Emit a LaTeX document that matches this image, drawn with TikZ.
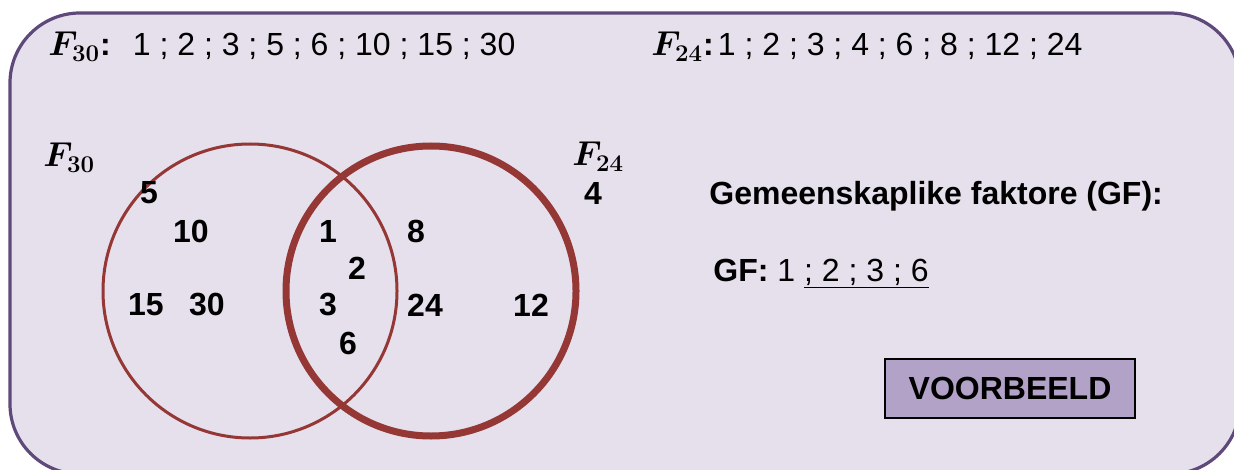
\documentclass[tikz,border=0pt]{standalone}
\usepackage{fontspec}
\setmainfont{Liberation Sans}
\usepackage{bm}
\usetikzlibrary{positioning}
\DeclareMathSizes{16}{17}{13}{10}
\definecolor{framepurple}{HTML}{5F497A}
\definecolor{framefill}{HTML}{E5E0EC}
\definecolor{vennred}{HTML}{953735}
\definecolor{boxfill}{HTML}{B3A2C7}

\begin{document}
\begin{tikzpicture}[
    x=0.5pt, y=-0.5pt,
    font=\fontsize{16}{19}\selectfont,
    num/.style={
      font=\fontsize{16}{19}\selectfont\bfseries,
      inner sep=0pt
    },
    textline/.style={anchor=base west, inner sep=0pt},
    ring/.style={
      circle,
      draw=vennred,
      inner sep=0pt,
      minimum size=147pt
    },
    examplebox/.style={
      rectangle,
      draw=black,
      line width=0.7pt,
      fill=boxfill,
      minimum width=125pt,
      minimum height=29.5pt,
      font=\fontsize{16}{19}\selectfont\bfseries
    },
]
    \useasboundingbox (0,0) rectangle (1234,470);
    \path [draw=framepurple, line width=1.6pt, fill=framefill, rounded corners=35pt] (10,13) rectangle (1240,474);

    % top lists of factors
    \node [textline] (listA) at (48,56) {$\bm{F_{30}}$\textbf{:}\hspace{11pt}1 ; 2 ; 3 ; 5 ; 6 ; 10 ; 15 ; 30};
    \node [textline] (listB) at (651,56) {$\bm{F_{24}}$\textbf{:}\hspace{2pt}1 ; 2 ; 3 ; 4 ; 6 ; 8 ; 12 ; 24};

    % the two sets
    \node [ring, line width=1.5pt] (setA) at (250,291) {};
    \node [ring, line width=3.5pt, minimum size=145pt] (setB) at (431,291) {};
    \node [textline] (nameA) at (43,167) {$\bm{F_{30}}$};
    \node [textline] (nameB) at (572,166) {$\bm{F_{24}}$};

    \node [num] (n5) at (149,193) {5};
    \node [num] (n10) at (191,231) {10};
    \node [num] (n15) at (146,305) {15};
    \node [num] (n30) at (207,305) {30};
    \node [num] (n1) at (328,231) {1};
    \node [num] (n2) at (357,268) {2};
    \node [num] (n3) at (328,305) {3};
    \node [num] (n6) at (348,343) {6};
    \node [num] (n8) at (416,231) {8};
    \node [num] (n24) at (425,305) {24};
    \node [num] (n12) at (531,305) {12};
    \node [num] (n4) at (593,193) {4};

    % common factors
    \node [textline] (gfhead) at (709,205) {\textbf{Gemeenskaplike faktore (GF):}};
    \node [textline] (gfline) at (713,281) {\textbf{GF:} 1 \underline{; 2 ; 3 ; 6}};

    \node [examplebox] (example) at (1010,388.5) {VOORBEELD};
\end{tikzpicture}
\end{document}
